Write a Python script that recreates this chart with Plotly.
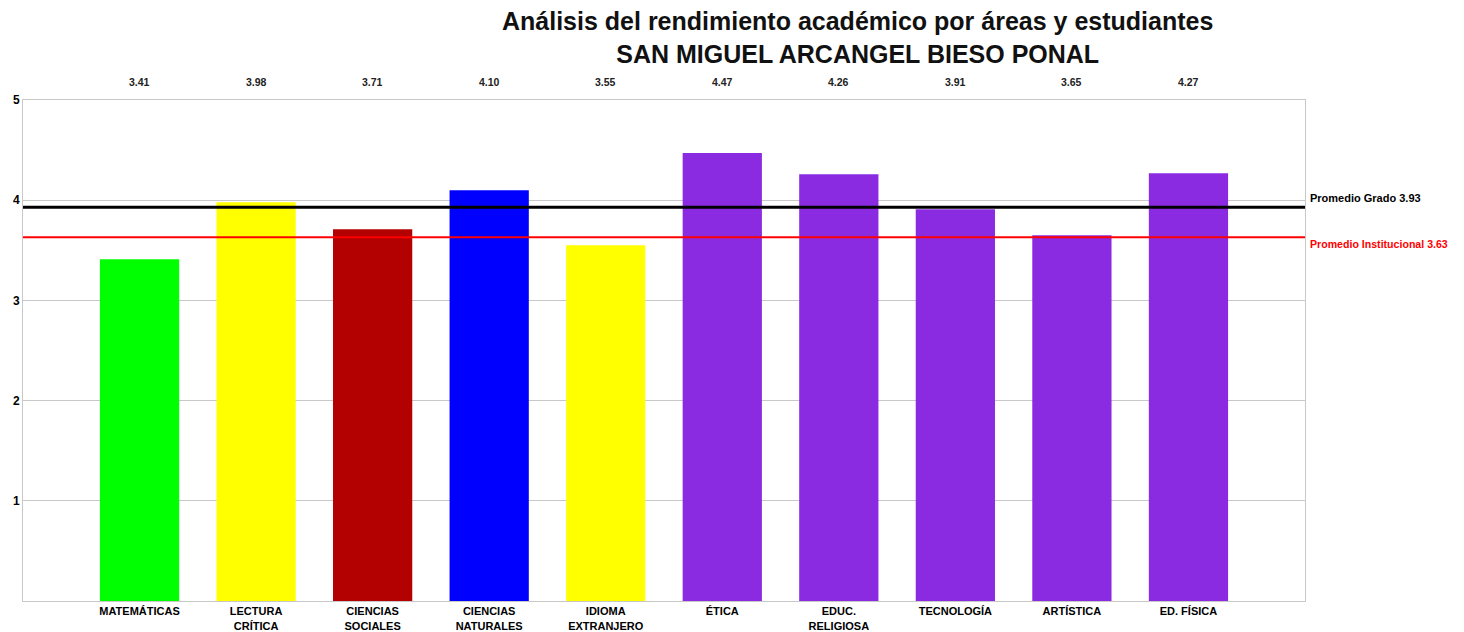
import plotly.graph_objects as go

# Datos
areas = ['MATEMÁTICAS', 'LECTURA<br>CRÍTICA', 'CIENCIAS<br>SOCIALES', 'CIENCIAS<br>NATURALES',
         'IDIOMA<br>EXTRANJERO', 'ÉTICA', 'EDUC.<br>RELIGIOSA', 'TECNOLOGÍA', 'ARTÍSTICA', 'ED. FÍSICA']
promedios = [3.41, 3.98, 3.71, 4.10, 3.55, 4.47, 4.26, 3.91, 3.65, 4.27]
colores = ['#00FF00', '#FFFF00', '#B30000', '#0000FF', '#FFFF00',
           '#8A2BE2', '#8A2BE2', '#8A2BE2', '#8A2BE2', '#8A2BE2']
promedio_grado = 3.93
promedio_institucional = 3.63
y_ticks = [1, 2, 3, 4, 5]

posiciones = list(range(1, len(areas) + 1))

fig = go.Figure()
fig.add_trace(go.Bar(x=posiciones, y=promedios, marker_color=colores,
                     marker_line_width=0, width=0.68, showlegend=False))

# Líneas de promedio
fig.add_shape(type='line', xref='paper', x0=0, x1=1, y0=promedio_grado, y1=promedio_grado,
              line=dict(color='black', width=3))
fig.add_shape(type='line', xref='paper', x0=0, x1=1, y0=promedio_institucional, y1=promedio_institucional,
              line=dict(color='#FF0000', width=2))

fig.add_annotation(xref='paper', x=1.002, y=promedio_grado, yshift=9, xanchor='left',
                   text='<b>Promedio Grado %.2f</b>' % promedio_grado, showarrow=False,
                   font=dict(size=11, color='black'))
fig.add_annotation(xref='paper', x=1.002, y=promedio_institucional, yshift=-7, xanchor='left',
                   text='<b>Promedio Institucional %.2f</b>' % promedio_institucional, showarrow=False,
                   font=dict(size=10.6, color='#FF0000'))

# Valores sobre el gráfico
for p, v in zip(posiciones, promedios):
    fig.add_annotation(x=p, yref='paper', y=1.052, text='<b>%.2f</b>' % v, showarrow=False,
                       font=dict(size=10.5, color='#222'))

# Título
fig.add_annotation(xref='paper', yref='paper', x=0.651, y=1.19, xanchor='center', yanchor='top',
                   text='<b>Análisis del rendimiento académico por áreas y estudiantes<br>SAN MIGUEL ARCANGEL BIESO PONAL</b>',
                   showarrow=False, font=dict(size=25, color='#111'))

# el body de la página agrega 8px, se compensa en los márgenes
fig.update_layout(
    width=1464, height=632,
    margin=dict(l=15, r=167, t=92, b=39),
    plot_bgcolor='white', paper_bgcolor='white',
    font=dict(family='Liberation Sans, Arial, sans-serif', color='black'),
)
fig.update_xaxes(range=[0, 11], tickvals=posiciones, ticktext=['<b>%s</b>' % a for a in areas],
                 tickfont=dict(size=11), showgrid=False, showline=True, linecolor='#c8c8c8',
                 mirror=True, ticks='', tickangle=0, automargin=False)
fig.update_yaxes(range=[0, 5], tickvals=y_ticks, ticktext=['<b>%d</b>' % t for t in y_ticks],
                 tickfont=dict(size=12), showgrid=True, gridcolor='#c8c8c8', zeroline=False,
                 showline=True, linecolor='#c8c8c8', mirror=True, ticks='', automargin=False)

fig.write_html('out.html')
